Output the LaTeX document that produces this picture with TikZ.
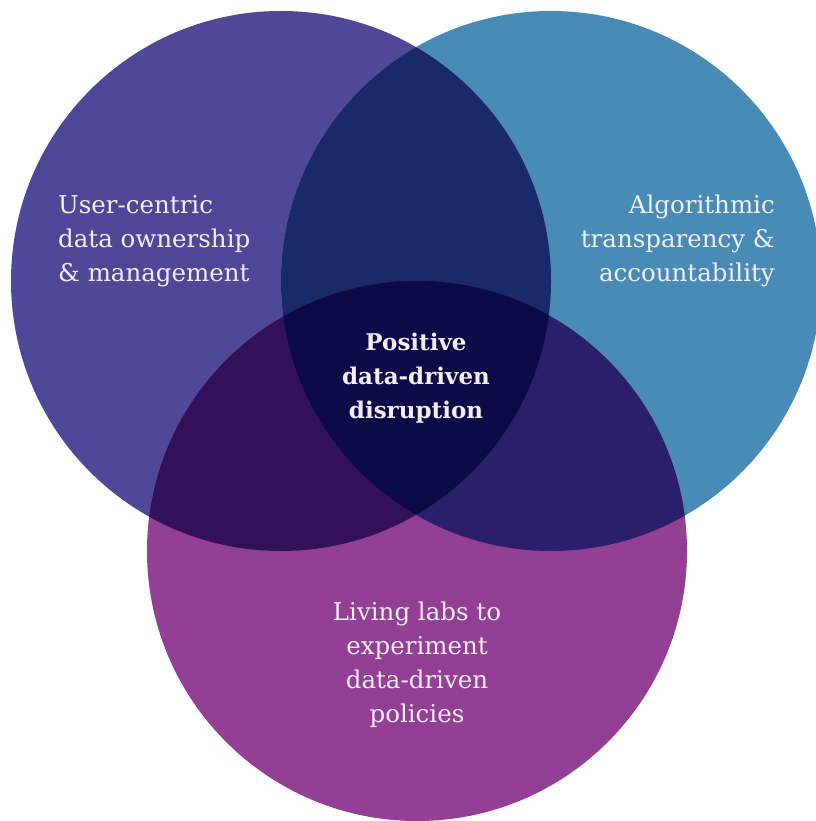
\documentclass[tikz,border=0pt]{standalone}
\usepackage{fontspec}
\setmainfont{DejaVu Serif}
\definecolor{leftc}{HTML}{4F4797}
\definecolor{rightc}{HTML}{478BB6}
\definecolor{botc}{HTML}{923F95}
\definecolor{lrc}{HTML}{1A296A}
\definecolor{lbc}{HTML}{321158}
\definecolor{rbc}{HTML}{2A1F6A}
\definecolor{allc}{HTML}{0D0B47}
\definecolor{txt}{HTML}{F2EEF5}

\begin{document}
\begin{tikzpicture}[x=1pt,y=-1pt]
  \tikzset{%
    ring/.style={radius=270pt},
    lbl/.style={text=txt, inner sep=0pt, font=\fontsize{24.5}{34}\selectfont},
    hub/.style={lbl, font=\fontsize{23}{34}\selectfont\bfseries, align=center},
  }
  \fill[white] (0,0) rectangle (815,821);
  \useasboundingbox (0,0) rectangle (815,821);

  \coordinate (L) at (281,281);
  \coordinate (R) at (551,281);
  \coordinate (B) at (417,551);

  % the three sets
  \fill[leftc] (L) circle[ring];
  \fill[rightc] (R) circle[ring];
  \fill[botc] (B) circle[ring];

  % pairwise overlaps
  \begin{scope}
    \clip (L) circle[ring];
    \fill[lrc] (R) circle[ring];
    \fill[lbc] (B) circle[ring];
  \end{scope}
  \begin{scope}
    \clip (R) circle[ring];
    \fill[rbc] (B) circle[ring];
  \end{scope}

  % centre
  \begin{scope}
    \clip (L) circle[ring];
    \clip (R) circle[ring];
    \fill[allc] (B) circle[ring];
  \end{scope}

  \node[lbl, align=left, anchor=west] (own) at (58,241)
    {User-centric\\data ownership\\\& management};
  \node[lbl, align=right, anchor=east] (algo) at (775,241)
    {Algorithmic\\transparency \&\\accountability};
  \node[hub] (core) at (416,378)
    {Positive\\data-driven\\disruption};
  \node[lbl, align=center] (labs) at (417,665)
    {Living labs to\\experiment\\data-driven\\policies};
\end{tikzpicture}
\end{document}
